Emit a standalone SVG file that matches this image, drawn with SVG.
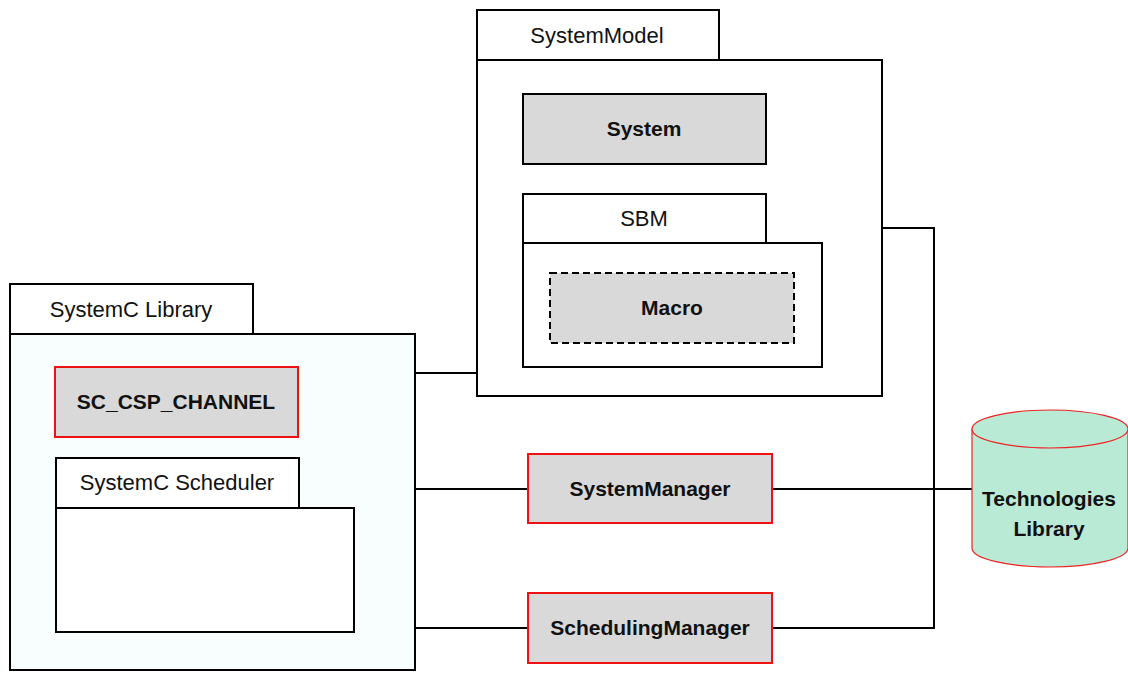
<svg xmlns="http://www.w3.org/2000/svg" width="1128" height="673" viewBox="0 0 1128 673">
  <style>
    .pkg { fill: #ffffff; stroke: #000000; stroke-width: 2; }
    .lib { fill: #f8fdfd; stroke: #000000; stroke-width: 2; }
    .cls { fill: #d9d9d9; stroke: #000000; stroke-width: 2; }
    .red { fill: #d9d9d9; stroke: #ee1111; stroke-width: 2; }
    .dash { fill: #d9d9d9; stroke: #000000; stroke-width: 2; stroke-dasharray: 7 4; }
    .db { fill: #b9ead5; stroke: #ee2222; stroke-width: 1.2; }
    .wire { fill: none; stroke: #000000; stroke-width: 2; }
    .t { font-family: "Liberation Sans", Arial, sans-serif; font-size: 22px; fill: #111111; text-anchor: middle; }
    .b { font-family: "Liberation Sans", Arial, sans-serif; font-size: 21px; font-weight: bold; fill: #111111; text-anchor: middle; }
  </style>

  <!-- connectors -->
  <g id="connectors">
    <line class="wire" x1="415" y1="373" x2="477" y2="373"/>
    <line class="wire" x1="415" y1="489" x2="528" y2="489"/>
    <line class="wire" x1="415" y1="628" x2="528" y2="628"/>
    <line class="wire" x1="772" y1="489" x2="972" y2="489"/>
    <polyline class="wire" points="882,228 934,228 934,628 772,628"/>
  </g>

  <!-- SystemModel package -->
  <g id="systemmodel">
    <rect class="pkg" x="477" y="10" width="242" height="50"/>
    <rect class="pkg" x="477" y="60" width="405" height="336"/>
    <text class="t" x="597" y="43">SystemModel</text>
  </g>
  <g id="system">
    <rect class="cls" x="523" y="94" width="243" height="70"/>
    <text class="b" x="644" y="136">System</text>
  </g>
  <g id="sbm">
    <rect class="pkg" x="523" y="194" width="243" height="49"/>
    <rect class="pkg" x="523" y="243" width="299" height="124"/>
    <text class="t" x="644" y="226">SBM</text>
  </g>
  <g id="macro">
    <rect class="dash" x="550" y="273" width="244" height="70"/>
    <text class="b" x="672" y="315">Macro</text>
  </g>

  <!-- SystemC Library package -->
  <g id="systemc-library">
    <rect class="pkg" x="10" y="284" width="243" height="50"/>
    <rect class="lib" x="10" y="334" width="405" height="336"/>
    <text class="t" x="131" y="317">SystemC Library</text>
  </g>
  <g id="sc-csp-channel">
    <rect class="red" x="55" y="367" width="243" height="70"/>
    <text class="b" x="176" y="409">SC_CSP_CHANNEL</text>
  </g>
  <g id="systemc-scheduler">
    <rect class="pkg" x="56" y="458" width="243" height="50"/>
    <rect class="pkg" x="56" y="508" width="298" height="124"/>
    <text class="t" x="177" y="490">SystemC Scheduler</text>
  </g>

  <!-- managers -->
  <g id="systemmanager">
    <rect class="red" x="528" y="454" width="244" height="69"/>
    <text class="b" x="650" y="496">SystemManager</text>
  </g>
  <g id="schedulingmanager">
    <rect class="red" x="528" y="593" width="244" height="70"/>
    <text class="b" x="650" y="635">SchedulingManager</text>
  </g>

  <!-- Technologies Library database -->
  <g id="technologies-library">
    <path class="db" d="M972,429 A78,19 0 0 1 1128,429 L1128,548 A78,19 0 0 1 972,548 Z"/>
    <path class="db" d="M972,429 A78,19 0 0 0 1128,429"/>
    <text class="b" x="1049" y="506">Technologies</text>
    <text class="b" x="1049" y="536">Library</text>
  </g>
</svg>
